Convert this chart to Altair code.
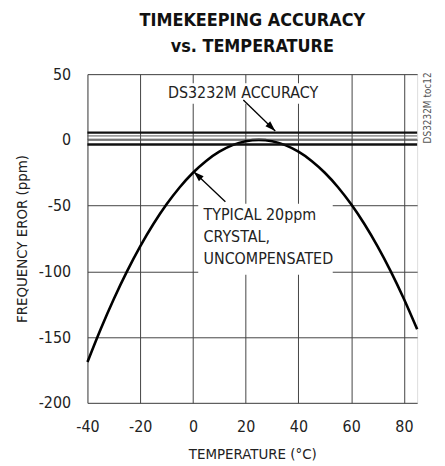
import altair as alt
import pandas as pd

# Curve
temps = [-40, -35, -30, -25, -20, -15, -10, -5, 0, 5, 10, 15, 20, 25, 30, 35, 40, 45, 50, 55, 60, 65, 70, 75, 80, 85]
ppm = [-169, -144, -121, -100, -81, -64, -49, -36, -25, -16, -9, -4, -1, 0, -1, -4, -9, -16, -25, -36, -49, -64, -81, -100, -121, -144]

# Accuracy band lines
band_thick = [5.5, -3.5]
band_thin = [3, 0.5]

x_ticks = [-40, -20, 0, 20, 40, 60, 80]
y_ticks = [-200, -150, -100, -50, 0, 50]

FONT = "Liberation Sans Narrow, DejaVu Sans Condensed, Roboto Condensed, sans-serif"

xs = alt.Scale(domain=[-40, 85], nice=False, zero=False)
ys = alt.Scale(domain=[-200, 50], nice=False, zero=False)

curve_df = pd.DataFrame({"T": temps, "ppm": ppm})

base_x = alt.X("T:Q", scale=xs, axis=alt.Axis(values=x_ticks, title="TEMPERATURE (°C)", domain=False, ticks=False,
                                              grid=True, gridColor="#444", gridWidth=1, labelPadding=16,
                                              labelFlush=False, labelExpr="'' + datum.value",
                                              labelFontSize=16, labelFont=FONT, labelColor="#222",
                                              titleFont=FONT, titleFontSize=15, titleFontWeight="normal",
                                              titleColor="#222", titlePadding=12))
base_y = alt.Y("ppm:Q", scale=ys, axis=alt.Axis(values=y_ticks, title="FREQUENCY EROR (ppm)", domain=False, ticks=False,
                                                grid=True, gridColor="#444", gridWidth=1, labelPadding=17,
                                                labelFlush=False, labelExpr="'' + datum.value",
                                                labelFontSize=16, labelFont=FONT, labelColor="#222",
                                                titleFont=FONT, titleFontSize=15, titleFontWeight="normal",
                                                titleColor="#222", titlePadding=9))

curve = alt.Chart(curve_df).mark_line(color="black", strokeWidth=2.6, interpolate="monotone").encode(x=base_x, y=base_y)

thick = alt.Chart(pd.DataFrame({"v": band_thick})).mark_rule(color="#111", strokeWidth=2.4).encode(
    y=alt.Y("v:Q", scale=ys))
thin = alt.Chart(pd.DataFrame({"v": band_thin})).mark_rule(color="#555", strokeWidth=1).encode(
    y=alt.Y("v:Q", scale=ys))

# White boxes behind annotation text
boxes = pd.DataFrame({"x1": [-9, 2], "x2": [47, 53], "y1": [43, -48.5], "y2": [27.5, -102.5]})
box = alt.Chart(boxes).mark_rect(color="white").encode(
    x=alt.X("x1:Q", scale=xs), x2="x2:Q", y=alt.Y("y1:Q", scale=ys), y2="y2:Q")

lbl1 = alt.Chart(pd.DataFrame({"x": [19], "y": [35.5], "t": ["DS3232M ACCURACY"]})).mark_text(
    font=FONT, fontSize=16, color="#222", align="center", baseline="middle").encode(
    x=alt.X("x:Q", scale=xs), y=alt.Y("y:Q", scale=ys), text="t:N")

lines2 = ["TYPICAL 20ppm", "CRYSTAL,", "UNCOMPENSATED"]
lbl2 = alt.Chart(pd.DataFrame({"x": [4, 4, 4], "y": [-56.8, -74.2, -90.9], "t": lines2})).mark_text(
    font=FONT, fontSize=16, color="#222", align="left", baseline="middle").encode(
    x=alt.X("x:Q", scale=xs), y=alt.Y("y:Q", scale=ys), text="t:N")

arrows = pd.DataFrame({"x1": [19.1, 12.3], "y1": [30.3, -47], "x2": [31.2, 0.3], "y2": [6.8, -24.2], "ang": [134, 313]})
arrow_lines = alt.Chart(arrows).mark_rule(color="black", strokeWidth=1.3).encode(
    x=alt.X("x1:Q", scale=xs), y=alt.Y("y1:Q", scale=ys), x2="x2:Q", y2="y2:Q")
arrow_heads = alt.Chart(arrows).mark_point(shape="M0,0L-0.4,1.2L0.4,1.2Z", filled=True, color="black", size=300, opacity=1).encode(
    x=alt.X("x2:Q", scale=xs), y=alt.Y("y2:Q", scale=ys), angle=alt.Angle("ang:Q", scale=None))

side = alt.Chart(pd.DataFrame({"t": ["DS3232M toc12"]})).mark_text(
    font=FONT, fontSize=10, color="#555", angle=270, align="center", baseline="middle").encode(
    x=alt.value(343), y=alt.value(34), text="t:N")

chart = alt.layer(curve, box, thick, thin, lbl1, lbl2, arrow_lines, arrow_heads, side).properties(
    width=332, height=331,
    title=alt.Title(["TIMEKEEPING ACCURACY", "vs. TEMPERATURE"], font=FONT, fontSize=18, fontWeight="bold",
                    color="#111", anchor="middle", offset=10, lineHeight=26),
    autosize=alt.AutoSizeParams(type="none"),
    padding={"left": 80, "top": 65, "right": 20, "bottom": 60},
).configure_view(stroke="#111", strokeWidth=2.6).configure(background="white")

chart.save("out.html", embed_options={"renderer": "svg", "actions": False})
